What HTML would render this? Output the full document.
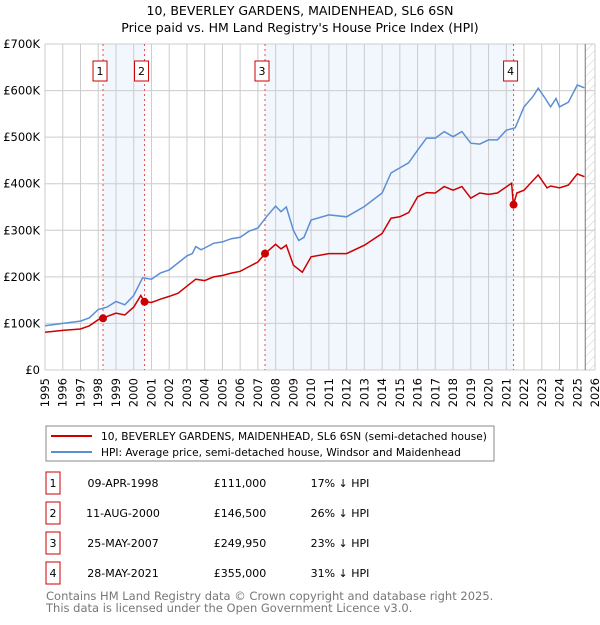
<!DOCTYPE html>
<html><head><meta charset="utf-8"><style>
body{margin:0;background:#fff;font-family:"Liberation Sans","DejaVu Sans",sans-serif;}
svg text{font-family:"DejaVu Sans","Liberation Sans",sans-serif;}
</style></head><body>
<svg width="600" height="620" viewBox="0 0 600 620">
<defs><pattern id="hatch" width="6" height="6" patternUnits="userSpaceOnUse" patternTransform="rotate(45)"><line x1="0" y1="0" x2="0" y2="6" stroke="#ccc" stroke-width="1"/></pattern></defs>
<text x="300" y="15" text-anchor="middle" font-size="12.5">10, BEVERLEY GARDENS, MAIDENHEAD, SL6 6SN</text>
<text x="300" y="32" text-anchor="middle" font-size="12.5">Price paid vs. HM Land Registry's House Price Index (HPI)</text>
<g id="plot"></g>
<g id="legend">
<rect x="46" y="426" width="448" height="35" fill="#fff" stroke="#888"/>
<line x1="51" y1="436" x2="92" y2="436" stroke="#cc0000" stroke-width="2"/>
<text x="101" y="440" font-size="10.6">10, BEVERLEY GARDENS, MAIDENHEAD, SL6 6SN (semi-detached house)</text>
<line x1="51" y1="452" x2="92" y2="452" stroke="#5b8fd4" stroke-width="2"/>
<text x="101" y="456" font-size="10.6">HPI: Average price, semi-detached house, Windsor and Maidenhead</text>
</g>
<g id="table" font-size="11"></g>
<text x="46" y="600" font-size="11.5" fill="#777">Contains HM Land Registry data © Crown copyright and database right 2025.</text>
<text x="46" y="612" font-size="11.5" fill="#777">This data is licensed under the Open Government Licence v3.0.</text>
</svg>
<script>
const hpiYears=[1995,1996,1997,1997.5,1998,1998.5,1999,1999.5,2000,2000.5,2001,2001.5,2002,2002.5,2003,2003.3,2003.5,2003.8,2004,2004.5,2005,2005.5,2006,2006.5,2007,2007.5,2008,2008.3,2008.6,2009,2009.3,2009.6,2010,2011,2012,2013,2014,2014.5,2015,2015.5,2016,2016.5,2017,2017.5,2018,2018.5,2019,2019.5,2020,2020.5,2021,2021.5,2022,2022.5,2022.8,2023.2,2023.5,2023.8,2024,2024.5,2025,2025.4];
const hpiValues=[95,100,105,112,130,135,147,140,160,198,195,208,215,230,245,250,265,258,262,272,275,282,285,298,305,330,352,340,350,300,278,285,322,333,329,351,380,423,434,445,472,498,498,512,501,512,487,485,494,494,515,520,565,587,605,583,565,583,565,575,612,606];
const ppYears=[1995,1996,1997,1997.5,1998,1998.27,1998.5,1999,1999.5,2000,2000.4,2000.6,2001,2001.5,2002,2002.5,2003,2003.5,2004,2004.5,2005,2005.5,2006,2006.5,2007,2007.4,2008,2008.3,2008.6,2009,2009.5,2010,2011,2012,2013,2014,2014.5,2015,2015.5,2016,2016.5,2017,2017.5,2018,2018.5,2019,2019.5,2020,2020.5,2021.3,2021.4,2021.6,2022,2022.8,2023.3,2023.5,2024,2024.5,2025,2025.4];
const ppValues=[81,85,88,95,108,111,115,122,118,135,160,146.5,145,152,158,165,180,195,192,200,203,208,212,222,232,250,270,260,268,225,210,243,250,250,268,293,326,329,338,372,381,380,394,386,394,369,380,377,380,401,355,380,386,419,391,395,391,397,421,415];
const saleLabels=["1","2","3","4"];
const saleYears=[1998.27,2000.61,2007.4,2021.41];
const saleValues=[111,146.5,249.95,355];
const saleDates=["09-APR-1998","11-AUG-2000","25-MAY-2007","28-MAY-2021"];
const salePrices=["£111,000","£146,500","£249,950","£355,000"];
const saleDiffs=["17% ↓ HPI","26% ↓ HPI","23% ↓ HPI","31% ↓ HPI"];
const yTicks=[0,100,200,300,400,500,600,700];
const yTickLabels=["£0","£100K","£200K","£300K","£400K","£500K","£600K","£700K"];
const xTicks=[1995,1996,1997,1998,1999,2000,2001,2002,2003,2004,2005,2006,2007,2008,2009,2010,2011,2012,2013,2014,2015,2016,2017,2018,2019,2020,2021,2022,2023,2024,2025,2026];

const X0=45,X1=595,Y0=370,Y1=44,xmin=1995,xmax=2026,ymax=700,dataEnd=2025.45;
const sx=v=>X0+(v-xmin)/(xmax-xmin)*(X1-X0);
const sy=v=>Y0-v/ymax*(Y0-Y1);
const NS="http://www.w3.org/2000/svg";
const plot=document.getElementById('plot');
function mk(tag,attrs,parent){const e=document.createElementNS(NS,tag);for(const k in attrs)e.setAttribute(k,attrs[k]);(parent||plot).appendChild(e);return e;}

let r=mk('rect',{x:sx(saleYears[0]),y:Y1,width:sx(saleYears[1])-sx(saleYears[0]),height:Y0-Y1,fill:'#f2f6fd'});


r=mk('rect',{x:sx(saleYears[2]),y:Y1,width:sx(saleYears[3])-sx(saleYears[2]),height:Y0-Y1,fill:'#f2f6fd'});


r=mk('rect',{x:sx(dataEnd),y:Y1,width:X1-sx(dataEnd),height:Y0-Y1,fill:'url(#hatch)'});



xTicks.forEach(t=>{
 const l=mk('line',{x1:sx(t),x2:sx(t),y1:Y1,y2:Y0,stroke:'#ccc','stroke-width':1});
 
 
 const tx=mk('text',{transform:`translate(${sx(t)+4},${Y0+8}) rotate(-90)`,'text-anchor':'end','font-size':11.5});
 tx.textContent=t;
 
 
});
yTicks.forEach((t,i)=>{
 const l=mk('line',{x1:X0,x2:X1,y1:sy(t),y2:sy(t),stroke:'#ccc','stroke-width':1});
 
 
 const tx=mk('text',{x:40,y:sy(t)+4,'text-anchor':'end','font-size':11.5});
 tx.textContent=yTickLabels[i];
 
 
});
let hl=mk('line',{x1:sx(dataEnd),x2:sx(dataEnd),y1:Y1,y2:Y0,stroke:'#777','stroke-width':1});



saleYears.forEach((y,i)=>{
 const l=mk('line',{x1:sx(y),x2:sx(y),y1:Y1,y2:Y0,stroke:'#e05050','stroke-width':1,'stroke-dasharray':'2,3'});
 
 
 const bx=sx(y)-10;
 const b=mk('rect',{x:bx,y:61,width:14,height:20,fill:'#fff',stroke:'#cc0000'});
 
 
 const t=mk('text',{x:bx+7,y:75,'text-anchor':'middle','font-size':11});
 t.textContent=saleLabels[i];
 
 
});

const path=(xs,vs)=>xs.map((x,i)=>(i?'L':'M')+sx(x).toFixed(1)+','+sy(vs[i]).toFixed(1)).join('');
let p=mk('path',{d:path(hpiYears,hpiValues),fill:'none',stroke:'#5b8fd4','stroke-width':1.5});


p=mk('path',{d:path(ppYears,ppValues),fill:'none',stroke:'#cc0000','stroke-width':1.5});


saleYears.forEach((y,i)=>{
 const c=mk('circle',{cx:sx(y),cy:sy(saleValues[i]),r:4,fill:'#cc0000'});
 
 
});

const tbl=document.getElementById('table');
saleLabels.forEach((s,i)=>{
 const yc=483+i*30;
 const b=mk('rect',{x:46,y:yc-11,width:14,height:22,fill:'#fff',stroke:'#cc0000'},tbl);
 
 
 const vals=[[s,53],[saleDates[i],123],[salePrices[i],240],[saleDiffs[i],340]];
 vals.forEach(([v,x])=>{
  const t=mk('text',{x:x,y:yc+4,'text-anchor':'middle','font-size':11},tbl);
  t.textContent=v;
  
  
 });
});
</script>
</body></html>
